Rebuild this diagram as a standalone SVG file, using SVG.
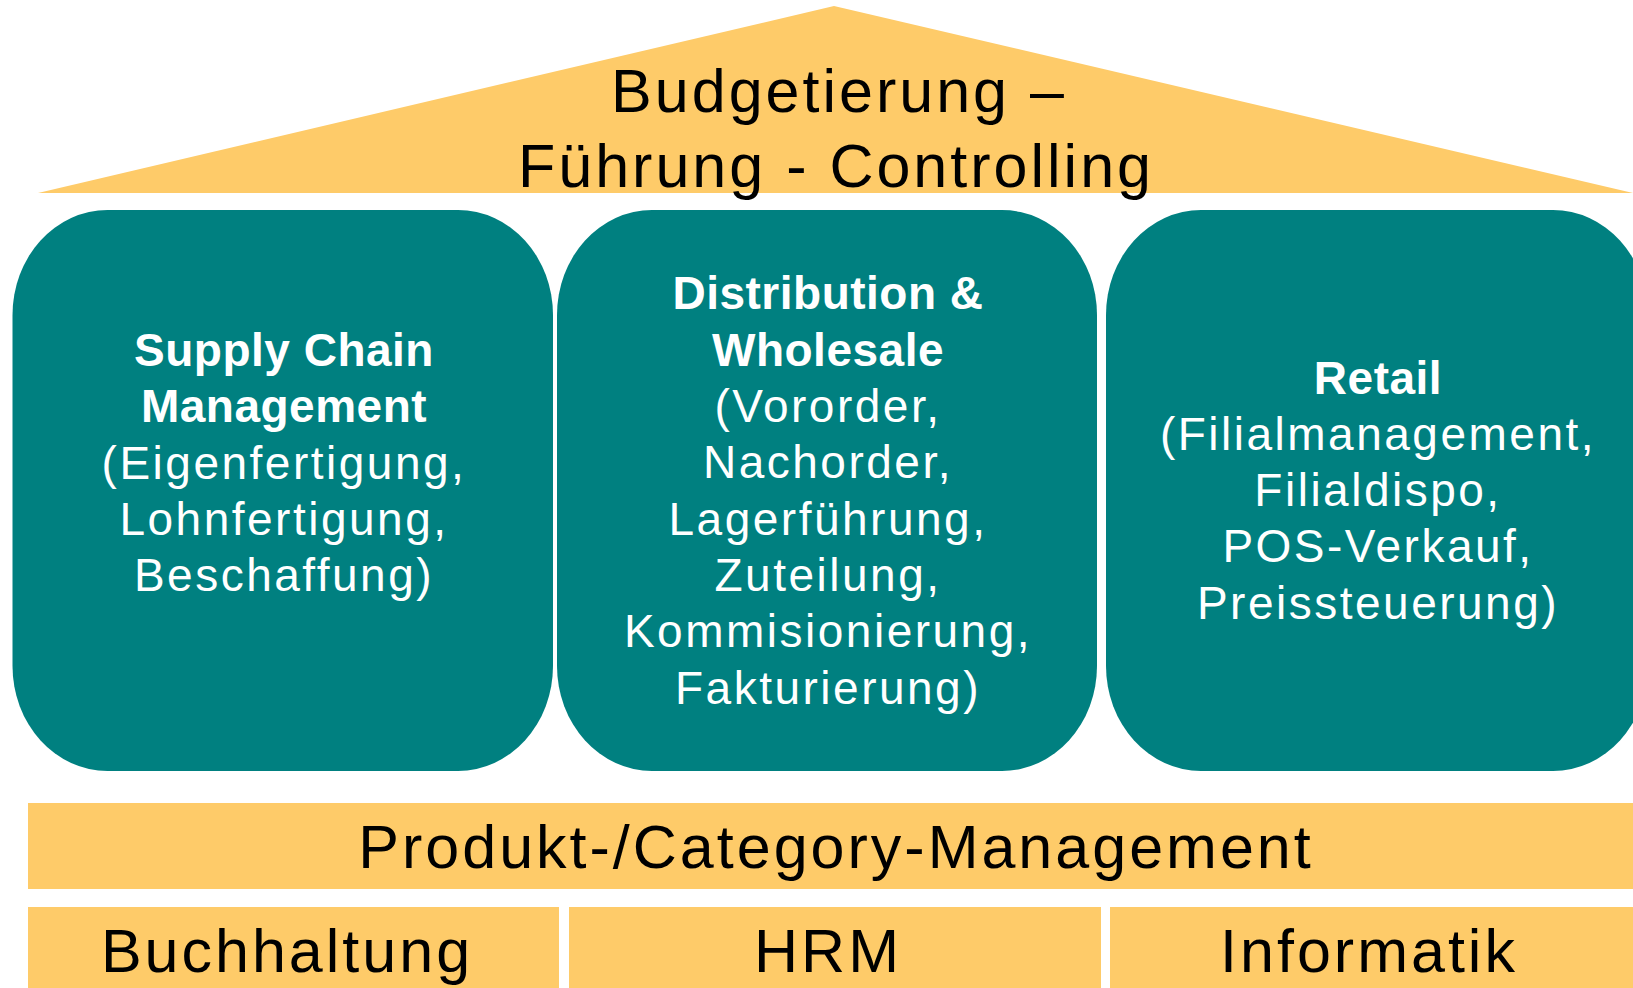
<svg xmlns="http://www.w3.org/2000/svg" width="1633" height="988" viewBox="0 0 1633 988">
<style>
.roof{fill:#FECB69}
.bar{fill:#FECB69}
.pillar{fill:#008080}
.dark{font-family:"Liberation Sans",Arial,sans-serif;font-size:61px;letter-spacing:3px;fill:#000;text-anchor:middle}
.wt{font-family:"Liberation Sans",Arial,sans-serif;font-size:46px;letter-spacing:2.5px;fill:#fff;text-anchor:middle}
.b{font-weight:bold;letter-spacing:0.5px}
</style>
<rect width="1633" height="988" fill="#fff"/>
<g id="roof">
<polygon class="roof" points="834,6 1633,193 38,193"/>
<text class="dark" x="839" y="112">Budgetierung –</text>
<text class="dark" x="836" y="187">Führung - Controlling</text>
</g>
<g id="scm">
<rect class="pillar" x="12.5" y="210" width="540.5" height="561" rx="95" ry="105"/>
<text class="wt"><tspan class="b" x="284" y="366">Supply Chain</tspan><tspan class="b" x="284" y="422">Management</tspan><tspan x="284" y="479">(Eigenfertigung,</tspan><tspan x="284" y="535">Lohnfertigung,</tspan><tspan x="284" y="591">Beschaffung)</tspan></text>
</g>
<g id="distribution">
<rect class="pillar" x="557" y="210" width="540" height="561" rx="95" ry="105"/>
<text class="wt"><tspan class="b" x="828" y="309">Distribution &amp;</tspan><tspan class="b" x="828" y="366">Wholesale</tspan><tspan x="828" y="422">(Vororder,</tspan><tspan x="828" y="478">Nachorder,</tspan><tspan x="828" y="535">Lagerführung,</tspan><tspan x="828" y="591">Zuteilung,</tspan><tspan x="828" y="647">Kommisionierung,</tspan><tspan x="828" y="704">Fakturierung)</tspan></text>
</g>
<g id="retail">
<rect class="pillar" x="1106" y="210" width="542" height="561" rx="95" ry="105"/>
<text class="wt"><tspan class="b" x="1378" y="394">Retail</tspan><tspan x="1378" y="450">(Filialmanagement,</tspan><tspan x="1378" y="506">Filialdispo,</tspan><tspan x="1378" y="562">POS-Verkauf,</tspan><tspan x="1378" y="619">Preissteuerung)</tspan></text>
</g>
<g id="produkt">
<rect class="bar" x="28" y="803" width="1605" height="86"/>
<text class="dark" x="836" y="868">Produkt-/Category-Management</text>
</g>
<g id="buchhaltung">
<rect class="bar" x="28" y="907" width="531" height="81"/>
<text class="dark" x="287" y="972">Buchhaltung</text>
</g>
<g id="hrm">
<rect class="bar" x="569" y="907" width="532" height="81"/>
<text class="dark" x="828" y="972">HRM</text>
</g>
<g id="informatik">
<rect class="bar" x="1110" y="907" width="523" height="81"/>
<text class="dark" x="1369" y="972">Informatik</text>
</g>
<g id="connectors"></g>
</svg>
